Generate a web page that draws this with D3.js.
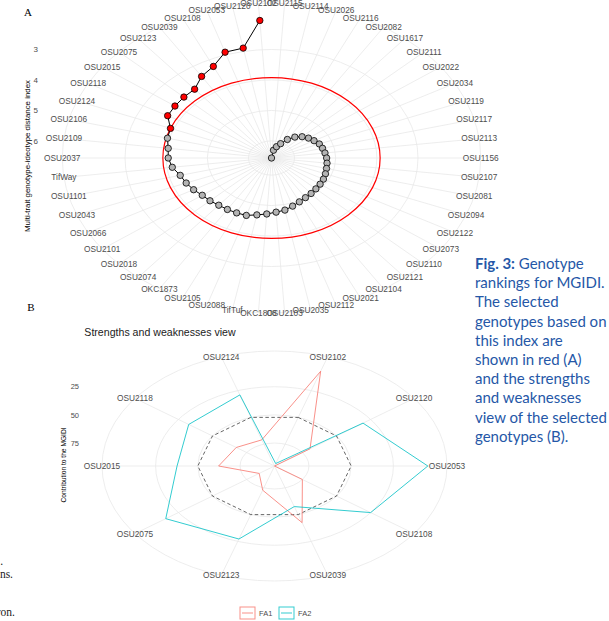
<!DOCTYPE html>
<html>
<head>
<meta charset="utf-8">
<script src="https://cdn.jsdelivr.net/npm/d3@7"></script>
<style>
  body { margin: 0; background: #fff; }
  svg { display: block; font-family: "Liberation Sans", Arial, sans-serif; }
</style>
</head>
<body>
<div id="chart"></div>
<script>
// genotypes in ranking order (worst first, best last) - clockwise from the top
var genotypes = ["OSU2115", "OSU2114", "OSU2026", "OSU2116", "OSU2082", "OSU1617", "OSU2111",
  "OSU2022", "OSU2034", "OSU2119", "OSU2117", "OSU2113", "OSU1156", "OSU2107", "OSU2081",
  "OSU2094", "OSU2122", "OSU2073", "OSU2110", "OSU2121", "OSU2104", "OSU2021", "OSU2112",
  "OSU2035", "OSU2103", "OKC1808", "TifTuf", "OSU2088", "OSU2105", "OKC1873", "OSU2074",
  "OSU2018", "OSU2101", "OSU2066", "OSU2043", "OSU1101", "TifWay", "OSU2037", "OSU2109",
  "OSU2106", "OSU2124", "OSU2118", "OSU2015", "OSU2075", "OSU2123", "OSU2039", "OSU2108",
  "OSU2053", "OSU2120", "OSU2102"];
var mgidi = [6.56, 6.30, 6.17, 6.04, 5.84, 5.67, 5.54, 5.45, 5.38, 5.31,
  5.28, 5.25, 5.22, 5.20, 5.18, 5.15, 5.12, 5.10, 5.08, 5.05,
  5.02, 4.97, 4.90, 4.82, 4.78, 4.72, 4.66, 4.58, 4.57, 4.56,
  4.55, 4.51, 4.48, 4.40, 4.33, 4.27, 4.13, 4.05, 4.03, 3.95,
  3.92, 3.68, 3.66, 3.64, 3.63, 3.39, 3.24, 2.91, 2.89, 2.04];
var nSelected = 10;
var mgidiTicks = [3, 4, 5, 6];

// strengths and weaknesses of the selected ones
var selected = ["OSU2102", "OSU2120", "OSU2053", "OSU2108", "OSU2039",
  "OSU2123", "OSU2075", "OSU2015", "OSU2118", "OSU2124"];
var fa1 = [6.9, 69.4, 95.4, 75.0, 42.5, 72.8, 84.2, 62.3, 67.4, 71.0];
var fa2 = [93.1, 30.6, 4.6, 25.0, 57.5, 27.2, 15.8, 37.7, 32.6, 29.0];
var factors = ["FA1", "FA2"];
var contribTicks = [25, 50, 75];
var meanContrib = 50;

var captionLines = ["Genotype", "rankings for MGIDI.", "The selected", "genotypes based on",
  "this index are", "shown in red (A)", "and the strengths", "and weaknesses",
  "view of the selected", "genotypes (B)."];

var width = 609, height = 621;
var gridColor = "#e8e8e8";
var labelColor = "#4d4d4d";
var factorColor = d3.scaleOrdinal(factors, ["#F8766D", "#00BFC4"]);

var svg = d3.select("#chart").append("svg")
  .attr("width", width)
  .attr("height", height);
svg.append("rect").attr("width", width).attr("height", height).attr("fill", "#fff");

// the published figure is squashed vertically, so x is stretched by sx
function polar(cx, cy, sx) {
  return function(theta, r) {
    return [cx + sx * r * Math.sin(theta), cy - r * Math.cos(theta)];
  };
}

// ---------------- Panel A ----------------
var A = { cx: 271.5, cy: 158, sx: 1.35, outer: 155 };
var pA = polar(A.cx, A.cy, A.sx);
var thetaA = d3.scaleBand().domain(genotypes).range([0, 2 * Math.PI]);
function angA(g) { return thetaA(g) + thetaA.bandwidth() / 2; }
var rA = d3.scaleLinear()
  .domain([d3.max(mgidi), d3.min(mgidi)])
  .range([0, A.outer * 0.4 / 0.45]);

var gA = svg.append("g");

// spokes
gA.selectAll("line.spoke")
  .data(genotypes)
  .enter()
  .append("line")
  .attr("x1", A.cx).attr("y1", A.cy)
  .attr("x2", function(d) { return pA(angA(d), A.outer)[0]; })
  .attr("y2", function(d) { return pA(angA(d), A.outer)[1]; })
  .attr("stroke", gridColor)
  .attr("stroke-width", 0.8);

// rings
gA.selectAll("ellipse.ring")
  .data(mgidiTicks.map(rA).concat([A.outer]))
  .enter()
  .append("ellipse")
  .attr("cx", A.cx).attr("cy", A.cy)
  .attr("rx", function(d) { return d * A.sx; })
  .attr("ry", function(d) { return d; })
  .attr("fill", "none")
  .attr("stroke", gridColor)
  .attr("stroke-width", 0.8);

// cut point of the selection
var cut = d3.max(mgidi.slice(mgidi.length - nSelected));
gA.append("ellipse")
  .attr("cx", A.cx).attr("cy", A.cy)
  .attr("rx", rA(cut) * A.sx)
  .attr("ry", rA(cut))
  .attr("fill", "none")
  .attr("stroke", "#ff0000")
  .attr("stroke-width", 1.2);

var ptsA = genotypes.map(function(g, i) { return pA(angA(g), rA(mgidi[i])); });
gA.append("path")
  .attr("d", d3.line()(ptsA))
  .attr("fill", "none")
  .attr("stroke", "#000")
  .attr("stroke-width", 1);

gA.selectAll("circle.pt")
  .data(ptsA)
  .enter()
  .append("circle")
  .attr("cx", function(d) { return d[0]; })
  .attr("cy", function(d) { return d[1]; })
  .attr("r", 3.2)
  .attr("fill", function(d, i) { return i >= genotypes.length - nSelected ? "#ff0000" : "#b4b4b4"; })
  .attr("stroke", "#000")
  .attr("stroke-width", 0.8);

gA.selectAll("text.lab")
  .data(genotypes)
  .enter()
  .append("text")
  .attr("x", function(d) { return pA(angA(d), A.outer)[0]; })
  .attr("y", function(d) { return pA(angA(d), A.outer)[1]; })
  .attr("dy", "0.35em")
  .attr("text-anchor", "middle")
  .attr("font-size", 8.3)
  .attr("fill", labelColor)
  .text(function(d) { return d; });

gA.selectAll("text.tick")
  .data(mgidiTicks)
  .enter()
  .append("text")
  .attr("x", 38)
  .attr("y", function(d) { return A.cy - rA(d); })
  .attr("dy", "0.35em")
  .attr("text-anchor", "end")
  .attr("font-size", 8)
  .attr("fill", labelColor)
  .text(function(d) { return d; });

gA.append("text")
  .attr("transform", "translate(27,156) rotate(-90)")
  .attr("dy", "0.35em")
  .attr("text-anchor", "middle")
  .attr("font-size", 8)
  .attr("textLength", 152)
  .attr("lengthAdjust", "spacingAndGlyphs")
  .attr("fill", "#000")
  .text("Multi-trait genotype-ideotype distance index");

svg.append("text")
  .attr("x", 28).attr("y", 16)
  .attr("text-anchor", "middle")
  .attr("font-family", "Liberation Serif, serif")
  .attr("font-size", 11)
  .text("A");

// ---------------- Panel B ----------------
var B = { cx: 274.5, cy: 466, sx: 1.5, outer: 115 };
var pB = polar(B.cx, B.cy, B.sx);
var thetaB = d3.scaleBand().domain(selected).range([0, 2 * Math.PI]);
function angB(g) { return thetaB(g) + thetaB.bandwidth() / 2; }
var allContrib = fa1.concat(fa2);
var rB = d3.scaleLinear()
  .domain([d3.max(allContrib), d3.min(allContrib)])
  .range([0, B.outer * 0.4 / 0.45]);

var gB = svg.append("g");

gB.selectAll("line.spoke")
  .data(selected)
  .enter()
  .append("line")
  .attr("x1", B.cx).attr("y1", B.cy)
  .attr("x2", function(d) { return pB(angB(d), B.outer)[0]; })
  .attr("y2", function(d) { return pB(angB(d), B.outer)[1]; })
  .attr("stroke", gridColor)
  .attr("stroke-width", 0.8);

gB.selectAll("ellipse.ring")
  .data(contribTicks.map(rB).concat([B.outer]))
  .enter()
  .append("ellipse")
  .attr("cx", B.cx).attr("cy", B.cy)
  .attr("rx", function(d) { return d * B.sx; })
  .attr("ry", function(d) { return d; })
  .attr("fill", "none")
  .attr("stroke", gridColor)
  .attr("stroke-width", 0.8);

var radarLine = d3.line().curve(d3.curveLinearClosed);

// mean contribution reference
gB.append("path")
  .attr("d", radarLine(selected.map(function(g) { return pB(angB(g), rB(meanContrib)); })))
  .attr("fill", "none")
  .attr("stroke", "#555")
  .attr("stroke-width", 0.9)
  .attr("stroke-dasharray", "3.5,2.5");

[fa1, fa2].forEach(function(vals, k) {
  gB.append("path")
    .attr("d", radarLine(selected.map(function(g, i) { return pB(angB(g), rB(vals[i])); })))
    .attr("fill", "none")
    .attr("stroke", factorColor(factors[k]))
    .attr("stroke-opacity", 0.8)
    .attr("stroke-width", 1);
});

gB.selectAll("text.lab")
  .data(selected)
  .enter()
  .append("text")
  .attr("x", function(d) { return pB(angB(d), B.outer)[0]; })
  .attr("y", function(d) { return pB(angB(d), B.outer)[1]; })
  .attr("dy", "0.35em")
  .attr("text-anchor", "middle")
  .attr("font-size", 8.3)
  .attr("fill", labelColor)
  .text(function(d) { return d; });

gB.selectAll("text.tick")
  .data(contribTicks)
  .enter()
  .append("text")
  .attr("x", 79)
  .attr("y", function(d) { return B.cy - rB(d); })
  .attr("dy", "0.35em")
  .attr("text-anchor", "end")
  .attr("font-size", 7.5)
  .attr("fill", labelColor)
  .text(function(d) { return d; });

gB.append("text")
  .attr("transform", "translate(63,465) rotate(-90)")
  .attr("dy", "0.35em")
  .attr("text-anchor", "middle")
  .attr("font-size", 8)
  .attr("textLength", 75)
  .attr("lengthAdjust", "spacingAndGlyphs")
  .attr("fill", "#000")
  .text("Contribution to the MGIDI");

gB.append("text")
  .attr("x", 160).attr("y", 332)
  .attr("dy", "0.35em")
  .attr("text-anchor", "middle")
  .attr("font-size", 10.6)
  .attr("fill", "#222")
  .text("Strengths and weaknesses view");

svg.append("text")
  .attr("x", 31).attr("y", 311)
  .attr("text-anchor", "middle")
  .attr("font-family", "Liberation Serif, serif")
  .attr("font-size", 11)
  .text("B");

// legend
var legend = gB.selectAll("g.key")
  .data(factors)
  .enter()
  .append("g")
  .attr("transform", function(d, i) { return "translate(" + (240 + i * 39) + ",607)"; });
legend.append("rect")
  .attr("width", 15).attr("height", 12)
  .attr("fill", "none")
  .attr("stroke", function(d) { return factorColor(d); })
  .attr("stroke-opacity", 0.8);
legend.append("line")
  .attr("x1", 2).attr("x2", 13)
  .attr("y1", 6).attr("y2", 6)
  .attr("stroke", function(d) { return factorColor(d); })
  .attr("stroke-opacity", 0.8);
legend.append("text")
  .attr("x", 19).attr("y", 6)
  .attr("dy", "0.35em")
  .attr("font-size", 7.5)
  .attr("fill", labelColor)
  .text(function(d) { return d; });

// ---------------- caption ----------------
var cap = svg.append("text")
  .attr("font-family", "Lato, sans-serif")
  .attr("font-size", 15)
  .attr("fill", "#2557a7");
captionLines.forEach(function(line, i) {
  var t = cap.append("tspan").attr("x", 475).attr("y", 269 + i * 19.2);
  if (i === 0) {
    t.append("tspan").attr("font-weight", "bold").text("Fig. 3:");
    t.append("tspan").text(" " + line);
  } else {
    t.text(line);
  }
});

// bits of the neighbouring column that leak in on the left
[[".", 3, 565], ["ns.", 13, 578], ["ron.", 15, 616]].forEach(function(d) {
  svg.append("text")
    .attr("x", d[1]).attr("y", d[2])
    .attr("text-anchor", "end")
    .attr("font-family", "Liberation Serif, serif")
    .attr("font-size", 11.5)
    .attr("fill", "#222")
    .text(d[0]);
});
</script>
</body>
</html>
